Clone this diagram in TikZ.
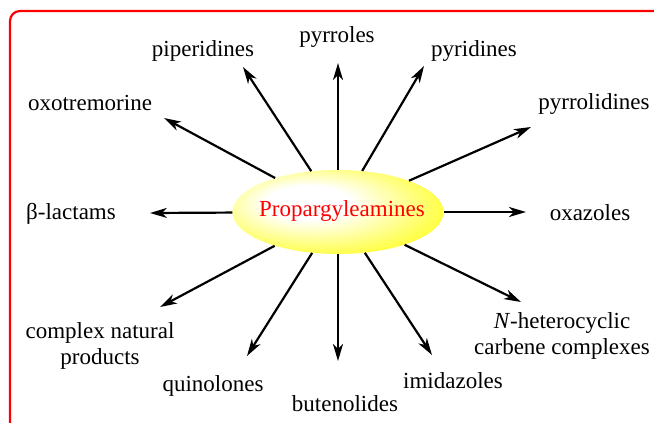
\documentclass[tikz,border=0pt]{standalone}
\usepackage{fontspec}
\setmainfont{Liberation Serif}
\newfontfamily\timesfont{Liberation Serif}
\usetikzlibrary{arrows.meta,shapes.geometric}
\pgfdeclareradialshading{sunshade}{\pgfpoint{-9bp}{7bp}}{color(0bp)=(white);color(10bp)=(white);color(36bp)=(yellow);color(50bp)=(yellow)}
\begin{document}
\begin{tikzpicture}[x=1pt,y=-1pt,
  font=\timesfont\fontsize{23}{25.5}\selectfont,
  lbl/.style={align=center, inner sep=0pt},
  arr/.style={-{Stealth[length=17pt,width=10pt,inset=5pt]}, line width=2.2pt},
  frame/.style={red, line width=2.2pt, rounded corners=10pt}]
\useasboundingbox (0,0) rectangle (654,423);
\begin{scope}
  \clip (0,0) rectangle (654,423);
  \draw[frame] (10,11) rectangle (672,432);
\end{scope}
\node[ellipse, minimum width=211pt, minimum height=84pt, inner sep=0pt, shading=sunshade] (E) at (338,212) {};
\node[text=red, inner sep=0pt] (T) at (342,211) {Propargyleamines};
% labels
\node[lbl] (pyrroles) at (337,37) {pyrroles};
\node[lbl] (piperidines) at (203,51) {piperidines};
\node[lbl] (pyridines) at (474,51) {pyridines};
\node[lbl] (oxo) at (90,103) {oxotremorine};
\node[lbl] (pyrrolidines) at (594,104) {pyrrolidines};
\node[lbl] (lactams) at (71,214) {β-lactams};
\node[lbl] (oxazoles) at (590,213) {oxazoles};
\node[lbl] (complex) at (100,346) {complex natural\\products};
\node[lbl] (nhc) at (562,336) {\textit{N}-heterocyclic\\carbene complexes};
\node[lbl] (quinolones) at (213,386) {quinolones};
\node[lbl] (butenolides) at (345,404) {butenolides};
\node[lbl] (imidazoles) at (453,381) {imidazoles};
% arrow tips
\coordinate (t1) at (338,63);
\coordinate (t2) at (243,67);
\coordinate (t3) at (424,66);
\coordinate (t4) at (164,118);
\coordinate (t5) at (531,127);
\coordinate (t6) at (150,213);
\coordinate (t7) at (526,212);
\coordinate (t8) at (160,307);
\coordinate (t9) at (521,302);
\coordinate (t10) at (247,356);
\coordinate (t11) at (338,361);
\coordinate (t12) at (432,355);
\foreach \t in {t1,t2,t3,t4,t5,t6,t7,t8,t9,t10,t11,t12}
  \draw[arr] (E) -- (\t);
\end{tikzpicture}
\end{document}
